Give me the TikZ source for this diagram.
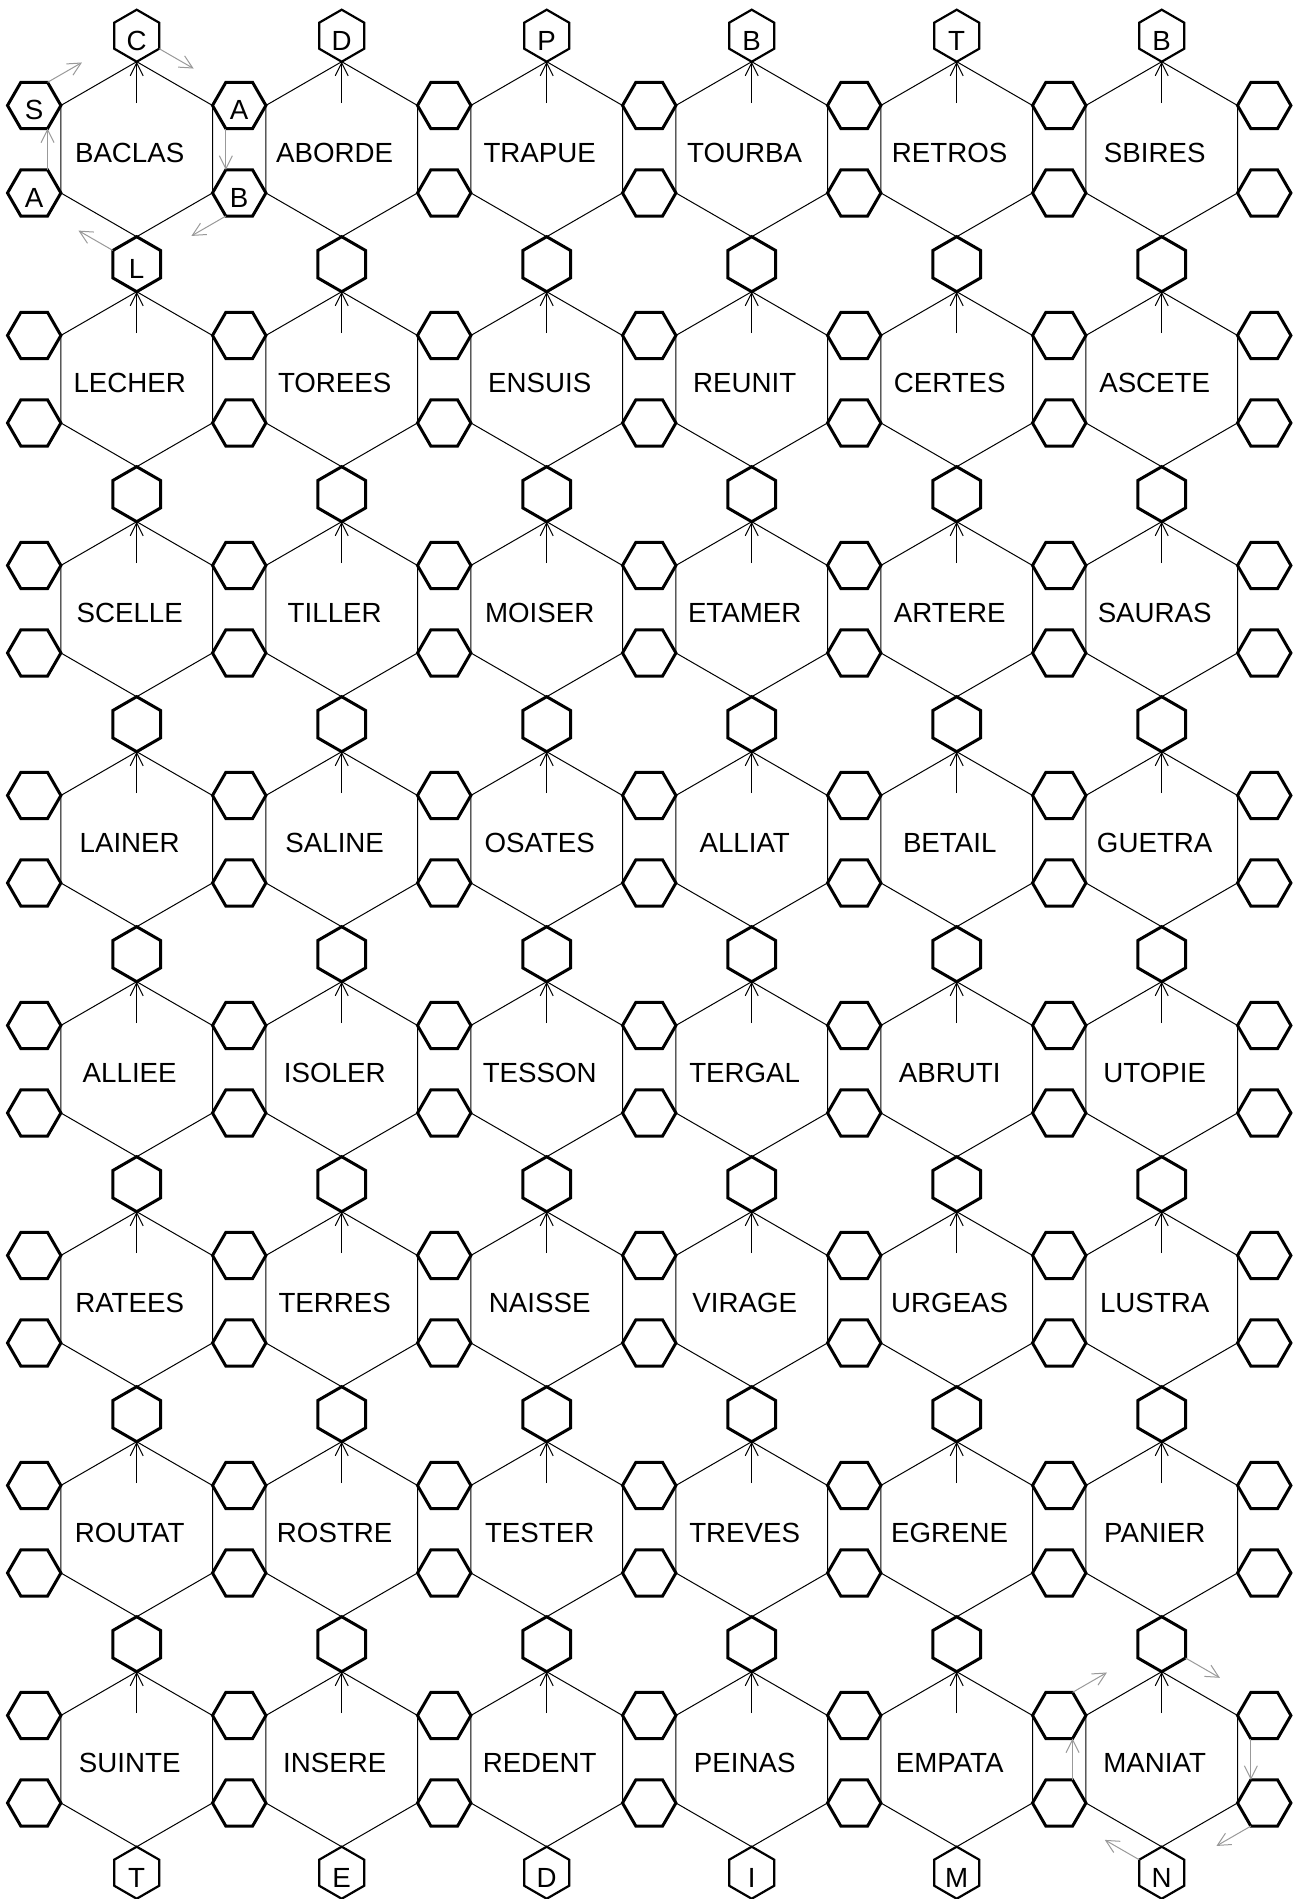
\documentclass[tikz,border=0pt]{standalone}
\usepackage{fontspec}
\setmainfont{Liberation Sans}
\usetikzlibrary{arrows.meta, shapes.geometric}
\definecolor{cline}{HTML}{000000}
\definecolor{cturn}{HTML}{999999}

\begin{document}
\begin{tikzpicture}[
  x=1pt, y=-1pt,
  font=\fontsize{27.7}{32}\selectfont,
  >={Straight Barb[length=13pt, width=13pt]},
  cell/.style={draw, regular polygon, regular polygon sides=6,
               inner sep=0pt, outer sep=0pt, line width=3pt},
  flat/.style={cell, minimum size=53.4pt},
  tall/.style={cell, minimum size=55pt, shape border rotate=90},
  rim/.style={tall, minimum size=52pt, line width=2.2pt},
  letter/.style={inner sep=0pt, text height=29pt, text depth=0pt},
  word/.style={inner sep=0pt, text height=27pt, text depth=0pt, xshift=-7pt},
  edge/.style={draw=cline, line width=1pt},
  up/.style={->, draw=cline, line width=1pt},
  turn/.style={->, draw=cturn, line width=1pt},
  ]
\useasboundingbox (0,0) rectangle (1293,1899);

% cells between the rows
\foreach \i in {0,...,5} {
  \node[rim] (v-\i-0) at ({136.7+205*\i}, 35.7) {};
  \foreach \j in {1,...,7}
    \node[tall] (v-\i-\j) at ({136.7+205*\i}, {34.2+230*\j}) {};
  \node[rim] (v-\i-8) at ({136.7+205*\i}, 1872.7) {};
}
% cells between the columns
\foreach \i in {0,...,6}
  \foreach \j in {0,...,15}
    \node[flat] (h-\i-\j) at ({34.2+205*\i}, {105.45+230*int(\j/2)+87.5*mod(\j,2)}) {};

% the words
\foreach \row [count=\j from 0] in {
  {BACLAS,ABORDE,TRAPUE,TOURBA,RETROS,SBIRES},
  {LECHER,TOREES,ENSUIS,REUNIT,CERTES,ASCETE},
  {SCELLE,TILLER,MOISER,ETAMER,ARTERE,SAURAS},
  {LAINER,SALINE,OSATES,ALLIAT,BETAIL,GUETRA},
  {ALLIEE,ISOLER,TESSON,TERGAL,ABRUTI,UTOPIE},
  {RATEES,TERRES,NAISSE,VIRAGE,URGEAS,LUSTRA},
  {ROUTAT,ROSTRE,TESTER,TREVES,EGRENE,PANIER},
  {SUINTE,INSERE,REDENT,PEINAS,EMPATA,MANIAT}}
  \foreach \w [count=\i from 0] in \row
    \node[word] (w-\i-\j) at ({136.7+205*\i}, {149.2+230*\j}) {\w};

% big hexagons and their start arrows
\foreach \i [evaluate=\i as \k using int(\i+1)] in {0,...,5} {
  \foreach \j [evaluate=\j as \u using int(2*\j),
               evaluate=\j as \l using int(2*\j+1),
               evaluate=\j as \n using int(\j+1)] in {0,...,7} {
    \draw[edge] (v-\i-\j.-90) -- (h-\k-\u.180) -- (h-\k-\l.180)
      -- (v-\i-\n.90) -- (h-\i-\l.0) -- (h-\i-\u.0) -- cycle;
    \coordinate (m-\i-\j) at ({136.7+205*\i}, {103.2+230*\j});
    \draw[up] (m-\i-\j) -- (v-\i-\j.-90);
  }
}

% letters
\foreach \c [count=\i from 0] in {C,D,P,B,T,B}
  \node[letter] (t-\i) at (v-\i-0) {\c};
\foreach \c [count=\i from 0] in {T,E,D,I,M,N}
  \node[letter] (b-\i) at (v-\i-8) {\c};
\node[letter] (s-0) at (h-0-0) {S};
\node[letter] (s-1) at (h-0-1) {A};
\node[letter] (s-2) at (h-1-0) {A};
\node[letter] (s-3) at (h-1-1) {B};
\node[letter] (s-4) at (v-0-1) {L};

% reading order around the first and the last cell
\foreach \i/\j/\k/\u/\l/\n in {0/0/1/0/1/1, 5/7/6/14/15/8} {
  \draw[turn] (h-\i-\l.60) -- (h-\i-\u.-60);
  \draw[turn] (h-\i-\u.60) -- ++(34.4,-19.85);
  \draw[turn] (v-\i-\j.-30) -- ++(34.4,19.85);
  \draw[turn] (h-\k-\u.-120) -- (h-\k-\l.120);
  \draw[turn] (h-\k-\l.-120) -- ++(-34.4,19.85);
  \draw[turn] (v-\i-\n.150) -- ++(-34.4,-19.85);
}
\end{tikzpicture}
\end{document}
